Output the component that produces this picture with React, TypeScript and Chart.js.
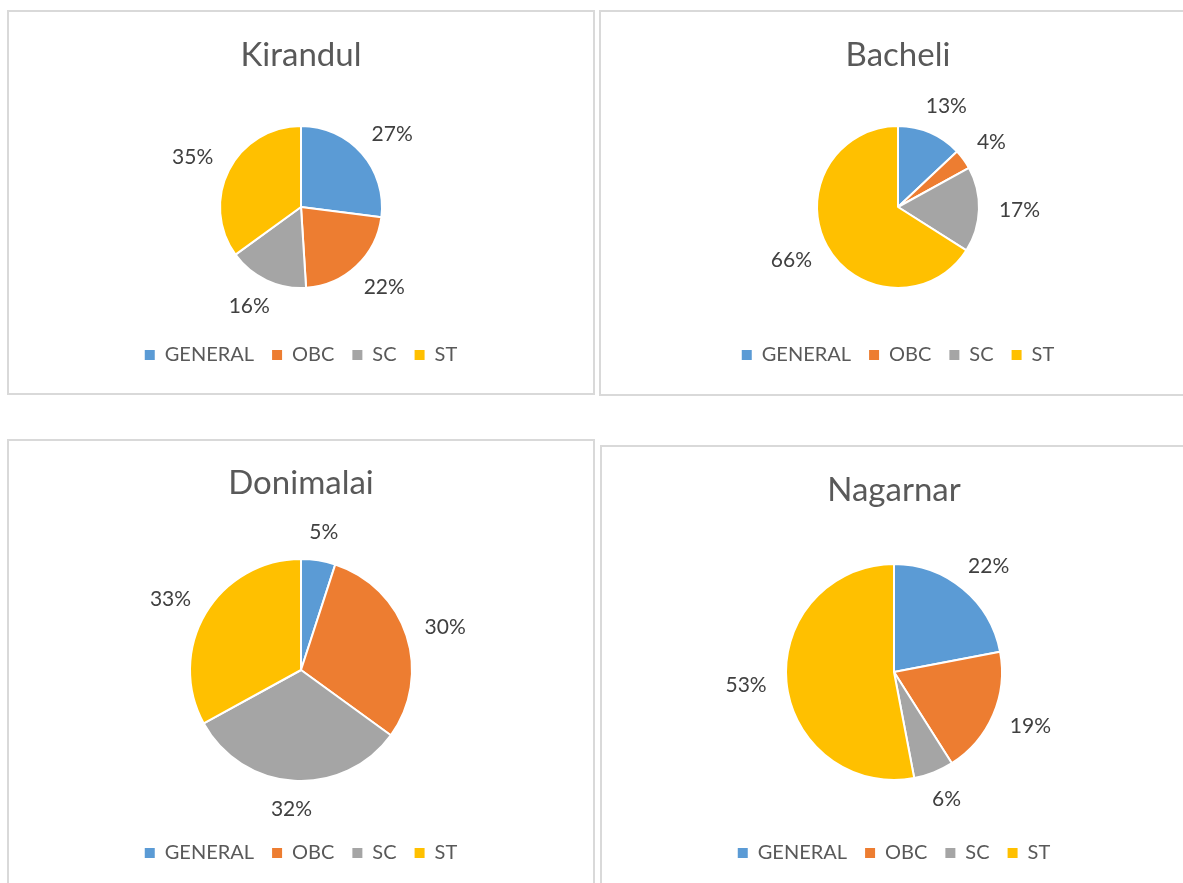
import React, { useEffect, useRef } from "react";
import { Chart, registerables } from "chart.js";

Chart.register(...registerables);

// ---- data ----
const categories = ["GENERAL", "OBC", "SC", "ST"];
const kirandulValues = [27, 22, 16, 35];
const bacheliValues = [13, 4, 17, 66];
const donimalaiValues = [5, 30, 32, 33];
const nagarnarValues = [22, 19, 6, 53];
const sliceColors = ["#5B9BD5", "#ED7D31", "#A5A5A5", "#FFC000"];

const FONT = "Lato, 'Open Sans', sans-serif";
const TITLE_SIZE = 33;
const LEGEND_SIZE = 20;
const LABEL_SIZE = 21;
const LEGEND_PAD = 18;

type Panel = {
  title: string;
  values: number[];
  left: number;
  top: number;
  width: number;
  height: number;
  titleCenter: number;
  pieCenter: number;
  legendCenter: number;
  radius: number;
};

const panels: Panel[] = [
  { title: "Kirandul", values: kirandulValues, left: 7, top: 10, width: 588, height: 385, titleCenter: 45, pieCenter: 197, legendCenter: 345, radius: 81 },
  { title: "Bacheli", values: bacheliValues, left: 599, top: 10, width: 598, height: 386, titleCenter: 45, pieCenter: 197, legendCenter: 345, radius: 81 },
  { title: "Donimalai", values: donimalaiValues, left: 7, top: 439, width: 588, height: 450, titleCenter: 44, pieCenter: 231, legendCenter: 414, radius: 111 },
  { title: "Nagarnar", values: nagarnarValues, left: 600, top: 445, width: 588, height: 450, titleCenter: 45, pieCenter: 227, legendCenter: 408, radius: 108 },
];

const outsideLabels = {
  id: "outsideLabels",
  afterDatasetsDraw(chart: any) {
    const ctx = chart.ctx;
    const meta = chart.getDatasetMeta(0);
    const data = chart.data.datasets[0].data as number[];
    ctx.save();
    ctx.font = `${LABEL_SIZE}px ${FONT}`;
    ctx.fillStyle = "#404040";
    ctx.textAlign = "center";
    ctx.textBaseline = "middle";
    meta.data.forEach((arc: any, i: number) => {
      const { x, y, startAngle, endAngle, outerRadius } = arc.getProps(
        ["x", "y", "startAngle", "endAngle", "outerRadius"],
        true
      );
      const mid = (startAngle + endAngle) / 2;
      const dx = Math.cos(mid);
      const dy = Math.sin(mid);
      const text = `${data[i]}%`;
      const w = ctx.measureText(text).width;
      const h = LABEL_SIZE * 0.85;
      const gap = 20;
      const cx = x + dx * (outerRadius + gap) + (dx * w) / 2;
      const cy = y + dy * (outerRadius + gap) + (dy * h) / 2;
      ctx.fillText(text, cx, cy);
    });
    ctx.restore();
  },
};

function PiePanel({ p }: { p: Panel }) {
  const ref = useRef<HTMLCanvasElement | null>(null);
  useEffect(() => {
    if (!ref.current) return;
    const H = p.height;
    const titleLine = TITLE_SIZE * 1.2;
    const titlePadTop = p.titleCenter - titleLine / 2;
    const legendHeight = LEGEND_SIZE + LEGEND_PAD + 10;
    const layoutBottom = H - 10 - LEGEND_SIZE / 2 - p.legendCenter;
    const legendTop = H - layoutBottom - legendHeight;
    const titleBottom = 2 * p.pieCenter - legendTop;
    const titlePadBottom = Math.max(0, titleBottom - titlePadTop - titleLine);

    const chart = new Chart(ref.current, {
      type: "pie",
      data: {
        labels: categories,
        datasets: [
          {
            data: p.values,
            backgroundColor: sliceColors,
            borderColor: "#ffffff",
            borderWidth: 2,
            radius: p.radius,
          } as any,
        ],
      },
      options: {
        animation: false,
        responsive: true,
        maintainAspectRatio: false,
        layout: { padding: { top: 0, left: 0, right: 0, bottom: layoutBottom } },
        plugins: {
          title: {
            display: true,
            text: p.title,
            color: "#595959",
            font: { family: FONT, size: TITLE_SIZE, weight: "normal", lineHeight: 1.2 },
            padding: { top: titlePadTop, bottom: titlePadBottom },
          },
          legend: {
            display: true,
            position: "bottom",
            labels: {
              color: "#595959",
              font: { family: FONT, size: LEGEND_SIZE },
              boxWidth: 10,
              boxHeight: 10,
              padding: LEGEND_PAD,
              generateLabels: (c: any) => {
                const base = (Chart as any).overrides.pie.plugins.legend.labels.generateLabels(c);
                return base.map((it: any) => ({ ...it, lineWidth: 0, strokeStyle: "transparent" }));
              },
            },
          },
          tooltip: { enabled: false },
        },
      } as any,
      plugins: [outsideLabels],
    });
    return () => chart.destroy();
  }, [p]);

  return (
    <div
      style={{
        position: "absolute",
        left: p.left,
        top: p.top,
        width: p.width,
        height: p.height,
        background: "#ffffff",
      }}
    >
      <div style={{ position: "absolute", left: 0, top: 0, width: "100%", height: "100%" }}>
        <canvas ref={ref} />
      </div>
      <div
        style={{
          position: "absolute",
          left: 0,
          top: 0,
          right: 0,
          bottom: 0,
          border: "2px solid #d9d9d9",
          pointerEvents: "none",
        }}
      />
    </div>
  );
}

export default function App() {
  return (
    <div
      style={{
        position: "absolute",
        left: 0,
        top: 0,
        width: 1183,
        height: 883,
        overflow: "hidden",
        background: "#ffffff",
      }}
    >
      {panels.map((p) => (
        <PiePanel key={p.title} p={p} />
      ))}
    </div>
  );
}
